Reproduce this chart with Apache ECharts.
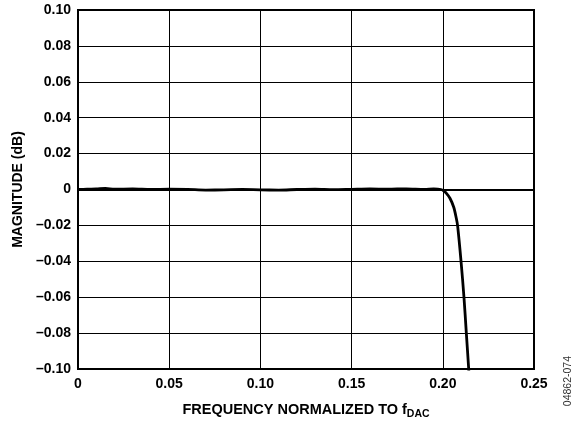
<!DOCTYPE html>
<html>
<head>
<meta charset="utf-8">
<script src="https://cdn.jsdelivr.net/npm/echarts@6/dist/echarts.min.js"></script>
<style>
  html, body { margin: 0; padding: 0; background: #fff; }
  #chart { width: 584px; height: 425px; }
</style>
</head>
<body>
<div id="chart"></div>
<script>
// frequency normalized to fDAC
const freq = [0, 0.005, 0.01, 0.015, 0.02, 0.03, 0.04, 0.05, 0.06, 0.07, 0.08, 0.09,
    0.10, 0.11, 0.12, 0.13, 0.14, 0.15, 0.16, 0.17, 0.18, 0.19, 0.195, 0.199,
    0.2005, 0.202, 0.204, 0.206, 0.2074, 0.2081, 0.2100, 0.2116, 0.2129, 0.2142, 0.2150];
// magnitude (dB)
const magnitude = [0, 0.0002, 0.0003, 0.0006, 0.0002, 0.0003, 0, 0.0002, 0.0001, -0.0003, -0.0002, 0,
    -0.0002, -0.0003, 0, 0.0002, -0.0001, 0.0001, 0.0003, 0.0002, 0.0004, 0.0001, 0.0003, 0,
    -0.0008, -0.0022, -0.005, -0.0099, -0.016, -0.02, -0.04, -0.06, -0.08, -0.10, -0.115];
const yTicks = [-0.10, -0.08, -0.06, -0.04, -0.02, 0, 0.02, 0.04, 0.06, 0.08, 0.10];
const xTicks = [0, 0.05, 0.10, 0.15, 0.20, 0.25];

var chartDom = document.getElementById('chart');
var myChart = echarts.init(chartDom);
var font = 'Liberation Sans, Arial, sans-serif';

var option = {
    animation: false,
    grid: {
        left: 78,
        right: 50,
        top: 10,
        bottom: 53,
        show: true,
        borderColor: '#000',
        borderWidth: 2
    },
    xAxis: {
        type: 'value',
        min: 0,
        max: 0.25,
        interval: 0.05,
        axisLine: { show: true, lineStyle: { color: '#000', width: 2 } },
        axisTick: { show: false },
        splitLine: { show: true, lineStyle: { color: '#000', width: 1 } },
        axisLabel: {
            color: '#000',
            fontFamily: font,
            fontWeight: 'bold',
            fontSize: 14,
            margin: 8,
            formatter: function (v) {
                var i = xTicks.findIndex(function (t) { return Math.abs(t - v) < 1e-9; });
                return v === 0 ? '0' : xTicks[i].toFixed(2);
            }
        },
        name: '{a|FREQUENCY NORMALIZED TO f}{b|DAC}',
        nameLocation: 'middle',
        nameGap: 31,
        nameTextStyle: {
            rich: {
                a: { fontFamily: font, fontWeight: 'bold', fontSize: 14.5, color: '#000' },
                b: { fontFamily: font, fontWeight: 'bold', fontSize: 10.5, color: '#000', padding: [9, 0, 0, 0] }
            }
        }
    },
    yAxis: {
        type: 'value',
        min: -0.10,
        max: 0.10,
        interval: 0.02,
        axisLine: { show: true, lineStyle: { color: '#000', width: 2 } },
        axisTick: { show: false },
        splitLine: { show: true, lineStyle: { color: '#000', width: 1 } },
        axisLabel: {
            color: '#000',
            fontFamily: font,
            fontWeight: 'bold',
            fontSize: 14,
            margin: 7,
            formatter: function (v) {
                if (Math.abs(v) < 1e-9) return '0';
                var s = Math.abs(v).toFixed(2);
                return v < 0 ? '\u2013' + s : s;
            }
        },
        name: 'MAGNITUDE (dB)',
        nameLocation: 'middle',
        nameGap: 50,
        nameTextStyle: {
            fontFamily: font,
            fontWeight: 'bold',
            fontSize: 14,
            color: '#000'
        }
    },
    graphic: [{
        type: 'text',
        left: 563,
        top: 356,
        rotation: Math.PI / 2,
        style: {
            text: '04862-074',
            fontFamily: font,
            fontSize: 10.5,
            fill: '#333'
        }
    }],
    series: [{
        type: 'line',
        data: freq.map(function (f, i) { return [f, magnitude[i]]; }),
        showSymbol: false,
        smooth: 0.3,
        clip: true,
        lineStyle: { color: '#000', width: 2.8 }
    }]
};
myChart.setOption(option);
</script>
</body>
</html>
